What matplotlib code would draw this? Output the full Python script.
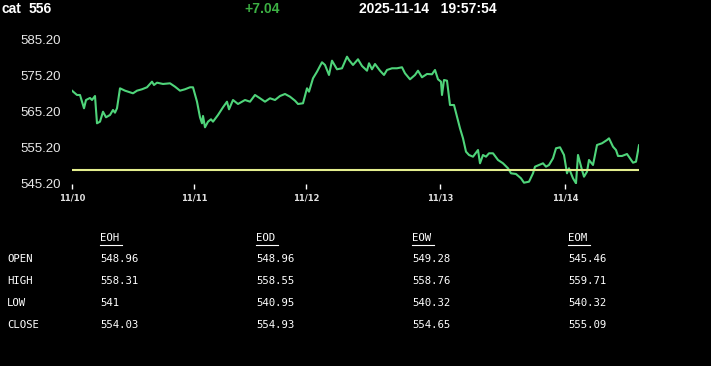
"""
plot.py
Intraday price chart for cat with an end-of-period summary table.
"""

import matplotlib.pyplot as plt
from matplotlib.lines import Line2D

#
#  Chart data: bar number and traded price
#

bars = [0, 5, 8, 12, 14, 18, 20, 23, 25, 28, 31, 34, 38, 41, 43, 45, 48, 53,
        61, 65, 70, 75, 80, 82, 85, 91, 98, 103, 108, 113, 118, 121, 125, 128,
        130, 131, 133, 136, 139, 141, 146, 151, 155, 157, 161, 166, 173, 178,
        183, 188, 193, 198, 203, 208, 213, 218, 223, 226, 231, 235, 237, 241,
        245, 250, 253, 257, 260, 265, 270, 275, 277, 281, 286, 290, 295, 297,
        300, 303, 308, 312, 315, 320, 325, 330, 333, 338, 343, 346, 350, 355,
        360, 363, 366, 369, 370, 372, 375, 378, 382, 385, 388, 391, 394, 397,
        401, 406, 408, 411, 414, 417, 421, 426, 431, 436, 439, 444, 449, 452,
        457, 461, 463, 467, 471, 474, 477, 481, 484, 488, 492, 495, 497, 501,
        504, 506, 510, 512, 515, 517, 521, 525, 530, 535, 537, 541, 544, 546,
        550, 555, 558, 561, 564, 567]

prices = [571.12, 569.92, 569.92, 566.23, 568.53, 569.09, 568.53, 569.64,
          562.06, 562.51, 565.28, 563.73, 564.37, 565.76, 565.01, 566.23,
          571.78, 571.12, 570.39, 571.12, 571.51, 572.06, 573.62, 572.70,
          573.34, 572.98, 573.17, 572.23, 571.12, 571.51, 572.06, 572.06,
          568.06, 563.73, 562.06, 564.09, 560.95, 562.51, 563.17, 562.51,
          564.37, 566.51, 568.06, 565.95, 568.53, 567.42, 568.53, 568.06,
          569.92, 569.01, 568.06, 569.01, 568.53, 569.64, 570.20, 569.45,
          568.34, 567.42, 567.62, 571.78, 570.84, 574.56, 576.39, 579.01,
          578.26, 575.48, 579.45, 577.06, 577.34, 580.56, 579.64, 578.26,
          579.84, 577.98, 576.67, 578.73, 577.06, 578.53, 576.67, 575.48,
          576.87, 577.34, 577.34, 577.62, 575.95, 574.28, 575.48, 576.67,
          574.84, 575.76, 575.67, 576.87, 574.28, 573.62, 569.92, 574.09,
          573.89, 567.14, 567.14, 563.89, 560.67, 557.89, 554.17, 553.26,
          552.78, 554.64, 550.95, 553.26, 552.78, 553.73, 553.73, 551.87,
          550.95, 549.56, 548.17, 547.98, 546.78, 545.56, 545.84, 548.17,
          550.01, 550.48, 550.95, 550.01, 550.48, 552.34, 555.12, 555.39,
          553.26, 548.17, 549.56, 546.78, 545.39, 553.26, 549.09, 547.23,
          548.62, 551.87, 550.48, 556.03, 556.51, 557.42, 557.89, 555.56,
          554.64, 552.98, 552.98, 553.53, 552.34, 551.12, 551.40, 555.95]

prev_close = 548.96

day_bars = [0, 122, 234, 368, 493]
day_labels = ['11/10', '11/11', '11/12', '11/13', '11/14']
price_ticks = [545.20, 555.20, 565.20, 575.20, 585.20]

#
#  Header and summary table
#

symbol = 'cat'
last_price = '556'
change = '+7.04'
stamp = '2025-11-14   19:57:54'

row_names = ['OPEN', 'HIGH', 'LOW', 'CLOSE']
col_names = ['EOH', 'EOD', 'EOW', 'EOM']
table = {
    'EOH': ['548.96', '558.31', '541', '554.03'],
    'EOD': ['548.96', '558.55', '540.95', '554.93'],
    'EOW': ['549.28', '558.76', '540.32', '554.65'],
    'EOM': ['545.46', '559.71', '540.32', '555.09'],
    }

#%%
W, H = 711, 366
fig = plt.figure(figsize=(W/100, H/100), dpi=100, facecolor='black')

def fx(px):
    return px / W

def fy(py):
    return 1 - py / H

ax = fig.add_axes([fx(72), fy(184), fx(567), 150.5 / H])
ax.set_facecolor('black')

ax.plot(bars, prices, color='#4fd47a', lw=1.5, solid_joinstyle='round')
ax.axhline(prev_close, color='#e4ee8e', lw=1.5)

ax.set_xlim(0, 567)
ax.set_ylim(545.2, 587.0)

ax.set_yticks(price_ticks)
ax.set_yticklabels([f'{v:.2f}' for v in price_ticks])
ax.set_xticks(day_bars)
ax.set_xticklabels(day_labels)

for s in ax.spines.values():
    s.set_visible(False)

ax.tick_params(axis='y', length=0, pad=8, labelcolor='#e8e8e8',
               labelsize=9.5)
ax.tick_params(axis='x', length=3.5, width=1, color='white', pad=3,
               labelcolor='#e0e0e0', labelsize=6)
for lab in ax.get_yticklabels():
    lab.set_family(['Liberation Sans', 'DejaVu Sans'])
for lab in ax.get_xticklabels():
    lab.set_family('DejaVu Sans')
    lab.set_fontweight('bold')

#
#  Header line
#

hdr = dict(color='white', fontsize=10, fontweight='bold', va='center',
           family=['Liberation Sans', 'DejaVu Sans'])
fig.text(fx(2), fy(9), symbol, **hdr)
fig.text(fx(29), fy(9), last_price, **hdr)
fig.text(fx(244), fy(9), change, **dict(hdr, color='#3cb043'))
fig.text(fx(359), fy(9), stamp, **hdr)

#
#  Summary table
#

mono = dict(color='white', fontsize=7.7, va='center', family='DejaVu Sans Mono')
col_x = [100, 256, 412, 568]
row_y = [259, 281, 303, 325]

for name, y in zip(row_names, row_y):
    fig.text(fx(7), fy(y), name, **mono)

for col, x in zip(col_names, col_x):
    fig.text(fx(x), fy(238), col, **mono)
    fig.add_artist(Line2D([fx(x), fx(x + 22)], [fy(245), fy(245)],
                          color='white', lw=0.8))
    for val, y in zip(table[col], row_y):
        fig.text(fx(x), fy(y), val, **mono)

fig.savefig('out.png', dpi=100, facecolor='black')
